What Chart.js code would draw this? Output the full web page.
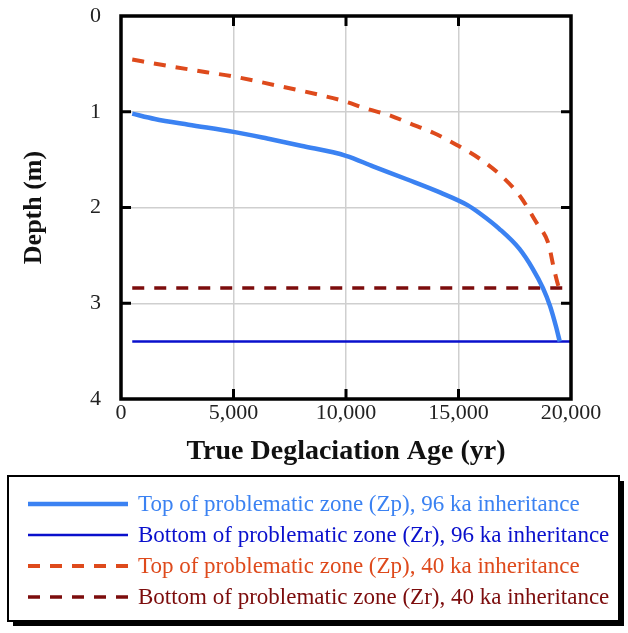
<!DOCTYPE html>
<html lang="en">
<head>
    <meta charset="UTF-8">
    <title>Problematic zone depth vs deglaciation age</title>
    <script src="https://cdn.jsdelivr.net/npm/chart.js"></script>
    <style>
        body {
            margin: 0;
            background: #ffffff;
        }
        #wrap {
            width: 628px;
            height: 633px;
            position: relative;
        }
    </style>
</head>
<body>
    <div id="wrap">
        <canvas id="chart"></canvas>
    </div>

    <script>
        // top of problematic zone (Zp), 96 ka inheritance
        const ageTop96 = [500, 1500, 3000, 5000, 6500, 8000, 10000, 11200, 12700, 14200, 15400, 16000, 16800, 17700, 18300, 18750, 19070, 19330, 19500];
        const depthTop96 = [1.02, 1.075, 1.135, 1.21, 1.28, 1.355, 1.46, 1.57, 1.705, 1.845, 1.975, 2.07, 2.22, 2.43, 2.64, 2.84, 3.03, 3.24, 3.40];

        // top of problematic zone (Zp), 40 ka inheritance
        const ageTop40 = [500, 1800, 3800, 5000, 6800, 8800, 10000, 10800, 12000, 12800, 13900, 14900, 16000, 17000, 17730, 18470, 19000, 19215, 19440, 19520];
        const depthTop40 = [0.455, 0.51, 0.587, 0.632, 0.72, 0.823, 0.895, 0.96, 1.042, 1.118, 1.222, 1.344, 1.50, 1.69, 1.88, 2.16, 2.38, 2.61, 2.82, 2.86];

        // bottoms of the zone are flat
        const ageBottom = [500, 20000];
        const depthBottom96 = [3.40, 3.40];
        const depthBottom40 = [2.84, 2.84];

        const ageTicks = [0, 5000, 10000, 15000, 20000];
        const depthTicks = [0, 1, 2, 3, 4];

        const seriesLabels = [
            'Top of problematic zone (Zp), 96 ka inheritance',
            'Bottom of problematic zone (Zr), 96 ka inheritance',
            'Top of problematic zone (Zp), 40 ka inheritance',
            'Bottom of problematic zone (Zr), 40 ka inheritance'
        ];

        const serif = '"Liberation Serif", "Times New Roman", serif';

        function pts(xs, ys) {
            return xs.map((x, i) => ({ x: x, y: ys[i] }));
        }

        // inward tick marks + heavy frame round the plot
        const frameTicks = {
            id: 'frameTicks',
            afterDatasetsDraw(chart) {
                const ctx = chart.ctx;
                const a = chart.chartArea;
                const xs = chart.scales.x;
                const ys = chart.scales.y;
                const len = 10;
                ctx.save();
                ctx.strokeStyle = '#000';
                ctx.lineWidth = 3;
                ctx.beginPath();
                ageTicks.slice(1, -1).forEach(v => {
                    const px = xs.getPixelForValue(v);
                    ctx.moveTo(px, a.top); ctx.lineTo(px, a.top + len);
                    ctx.moveTo(px, a.bottom); ctx.lineTo(px, a.bottom - len);
                });
                depthTicks.slice(1, -1).forEach(v => {
                    const py = ys.getPixelForValue(v);
                    ctx.moveTo(a.left, py); ctx.lineTo(a.left + len, py);
                    ctx.moveTo(a.right, py); ctx.lineTo(a.right - len, py);
                });
                ctx.stroke();
                ctx.lineWidth = 3.5;
                ctx.strokeRect(a.left, a.top, a.right - a.left, a.bottom - a.top);
                ctx.restore();
            }
        };

        // boxed legend with drop shadow under the plot
        const boxLegend = {
            id: 'boxLegend',
            afterDraw(chart) {
                const ctx = chart.ctx;
                const bx = 8, by = 476, bw = 611, bh = 145;
                ctx.save();
                ctx.fillStyle = '#000';
                ctx.fillRect(bx + 5, by + 5, bw, bh);
                ctx.fillStyle = '#fff';
                ctx.fillRect(bx, by, bw, bh);
                ctx.strokeStyle = '#000';
                ctx.lineWidth = 2;
                ctx.strokeRect(bx, by, bw, bh);

                ctx.font = '23px ' + serif;
                ctx.textBaseline = 'middle';
                chart.data.datasets.forEach((ds, i) => {
                    const y = 504 + i * 31;
                    ctx.strokeStyle = ds.borderColor;
                    ctx.lineWidth = ds.borderWidth;
                    ctx.setLineDash(ds.borderDash || []);
                    ctx.beginPath();
                    ctx.moveTo(28, y);
                    ctx.lineTo(128, y);
                    ctx.stroke();
                    ctx.setLineDash([]);
                    ctx.fillStyle = ds.borderColor;
                    ctx.fillText(ds.label, 138, y + 1);
                });
                ctx.restore();
            }
        };

        new Chart(document.getElementById('chart'), {
            type: 'line',
            data: {
                datasets: [
                    {
                        label: seriesLabels[0],
                        data: pts(ageTop96, depthTop96),
                        borderColor: '#3b82f2',
                        borderWidth: 4.5,
                        cubicInterpolationMode: 'monotone'
                    },
                    {
                        label: seriesLabels[1],
                        data: pts(ageBottom, depthBottom96),
                        borderColor: '#0a10cc',
                        borderWidth: 2.5
                    },
                    {
                        label: seriesLabels[2],
                        data: pts(ageTop40, depthTop40),
                        borderColor: '#de4a1c',
                        borderWidth: 4,
                        borderDash: [12, 10],
                        cubicInterpolationMode: 'monotone'
                    },
                    {
                        label: seriesLabels[3],
                        data: pts(ageBottom, depthBottom40),
                        borderColor: '#7c0c0c',
                        borderWidth: 3.5,
                        borderDash: [12, 10]
                    }
                ]
            },
            options: {
                responsive: true,
                maintainAspectRatio: false,
                animation: false,
                elements: { point: { radius: 0 } },
                layout: { padding: { left: 0, top: 16, right: 57, bottom: 164 } },
                plugins: {
                    legend: { display: false },
                    tooltip: { enabled: false }
                },
                scales: {
                    x: {
                        type: 'linear',
                        min: 0,
                        max: 20000,
                        afterBuildTicks: s => { s.ticks = ageTicks.map(v => ({ value: v })); },
                        afterFit: s => { s.height = 70; },
                        grid: { color: '#cfcfcf', lineWidth: 1.5, drawTicks: false },
                        border: { display: false },
                        ticks: {
                            padding: 1,
                            color: '#222',
                            font: { family: serif, size: 22 },
                            maxRotation: 0,
                            callback: v => v.toLocaleString('en-US')
                        },
                        title: {
                            display: true,
                            text: 'True Deglaciation Age (yr)',
                            color: '#111',
                            font: { family: serif, size: 28, weight: 'bold' },
                            padding: { top: 0, bottom: 0 }
                        }
                    },
                    y: {
                        type: 'linear',
                        reverse: true,
                        min: 0,
                        max: 4,
                        afterBuildTicks: s => { s.ticks = depthTicks.map(v => ({ value: v })); },
                        afterFit: s => {
                            s.width = 121;
                            s.paddingTop = 0;
                            s.paddingBottom = 0;
                        },
                        grid: { color: '#cfcfcf', lineWidth: 1.5, drawTicks: false },
                        border: { display: false },
                        ticks: {
                            padding: 20,
                            color: '#222',
                            font: { family: serif, size: 22 }
                        },
                        title: {
                            display: true,
                            text: 'Depth (m)',
                            color: '#111',
                            font: { family: serif, size: 26, weight: 'bold' },
                            padding: { top: 19, bottom: 0 }
                        }
                    }
                }
            },
            plugins: [frameTicks, boxLegend]
        });
    </script>
</body>
</html>
